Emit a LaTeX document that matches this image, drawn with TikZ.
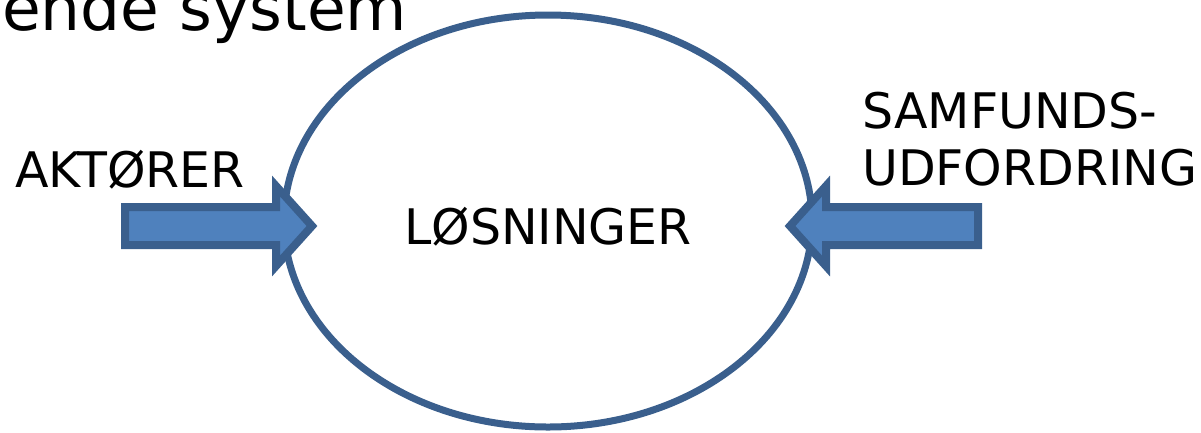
\documentclass[tikz,border=0pt]{standalone}
\usepackage{fontspec}
\setmainfont{DejaVu Sans}
\definecolor{arrowfill}{HTML}{4F81BD}
\definecolor{edgeblue}{HTML}{3A5F8D}
\begin{document}
\begin{tikzpicture}[x=1pt,y=-1pt,
  lbl/.style={inner sep=0pt,anchor=base west,font=\fontsize{49}{59}\selectfont},
  fatarrow/.style={draw=edgeblue,fill=arrowfill,line width=8pt,line join=miter}]
\useasboundingbox (0,0) rectangle (1201,432);
\node[lbl,font=\fontsize{63}{70}\selectfont] (title) at (2,30) {ende system};
\draw[edgeblue,line width=7pt] (548,221) ellipse [x radius=264,y radius=206];
\coordinate (ell) at (548,221);
\node[lbl] (center) at (404,244) {LØSNINGER};
\node[lbl] (act) at (15,187) {AKTØRER};
\node[lbl] (sam1) at (862,128) {SAMFUNDS-};
\node[lbl] (sam2) at (862,185) {UDFORDRING};
\draw[fatarrow] (125,207) -- (276,207) -- (276,186) -- (312,226) -- (276,266) -- (276,245) -- (125,245) -- cycle;
\draw[fatarrow] (978,207) -- (826,207) -- (826,186) -- (790,226) -- (826,266) -- (826,245) -- (978,245) -- cycle;
\end{tikzpicture}
\end{document}
